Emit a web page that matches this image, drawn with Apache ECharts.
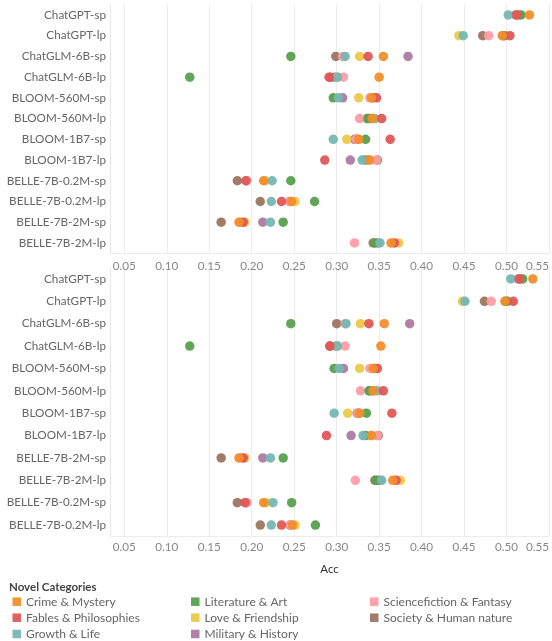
<!DOCTYPE html>
<html><head><meta charset="utf-8">
<script src="https://cdn.jsdelivr.net/npm/echarts@6/dist/echarts.min.js"></script>
<style>html,body{margin:0;padding:0;background:#fff}#c{width:552px;height:641px}</style>
</head><body><div id="c"></div>
<script>
const modelsTop = ['ChatGPT-sp','ChatGPT-lp','ChatGLM-6B-sp','ChatGLM-6B-lp','BLOOM-560M-sp','BLOOM-560M-lp','BLOOM-1B7-sp','BLOOM-1B7-lp','BELLE-7B-0.2M-sp','BELLE-7B-0.2M-lp','BELLE-7B-2M-sp','BELLE-7B-2M-lp'];
const modelsBottom = ['ChatGPT-sp','ChatGPT-lp','ChatGLM-6B-sp','ChatGLM-6B-lp','BLOOM-560M-sp','BLOOM-560M-lp','BLOOM-1B7-sp','BLOOM-1B7-lp','BELLE-7B-2M-sp','BELLE-7B-2M-lp','BELLE-7B-0.2M-sp','BELLE-7B-0.2M-lp'];
const categories = ['Crime & Mystery','Fables & Philosophies','Growth & Life','Literature & Art','Love & Friendship','Military & History','Sciencefiction & Fantasy','Society & Human nature'];
const xTicks = [0.05,0.10,0.15,0.20,0.25,0.30,0.35,0.40,0.45,0.50,0.55];

// top panel values
const topCrime      = [0.527,0.495,0.355,0.350,0.341,0.342,0.326,0.339,0.214,0.247,0.185,0.364];
const topFables     = [0.512,0.504,0.337,0.291,0.347,0.353,0.363,0.286,0.193,0.235,0.190,0.368];
const topGrowth     = [0.502,0.449,0.310,0.301,0.302,0.345,0.296,0.330,0.224,0.223,0.222,0.351];
const topLiterature = [0.517,0.498,0.246,0.127,0.296,0.337,0.334,0.334,0.246,0.274,0.237,0.345];
const topLove       = [0.514,0.444,0.327,0.301,0.326,0.340,0.312,0.338,0.216,0.251,0.192,0.373];
const topMilitary   = [0.515,0.496,0.384,0.298,0.307,0.341,0.321,0.316,0.194,0.245,0.213,0.348];
const topScifi      = [0.513,0.479,0.307,0.308,0.339,0.327,0.323,0.347,0.194,0.244,0.187,0.321];
const topSociety    = [0.511,0.472,0.299,0.293,0.343,0.336,0.324,0.348,0.183,0.210,0.164,0.343];

// bottom panel values
const botCrime      = [0.531,0.498,0.356,0.352,0.343,0.343,0.327,0.341,0.185,0.366,0.214,0.248];
const botFables     = [0.515,0.508,0.338,0.292,0.348,0.355,0.365,0.288,0.190,0.370,0.192,0.235];
const botGrowth     = [0.505,0.451,0.311,0.301,0.303,0.348,0.297,0.331,0.222,0.353,0.225,0.223];
const botLiterature = [0.519,0.501,0.246,0.127,0.297,0.338,0.335,0.334,0.237,0.347,0.247,0.275];
const botLove       = [0.517,0.448,0.328,0.301,0.327,0.342,0.313,0.340,0.192,0.375,0.217,0.251];
const botMilitary   = [0.516,0.499,0.386,0.299,0.308,0.343,0.324,0.317,0.213,0.350,0.194,0.245];
const botScifi      = [0.515,0.482,0.310,0.310,0.339,0.328,0.325,0.348,0.187,0.322,0.194,0.245];
const botSociety    = [0.514,0.474,0.300,0.292,0.345,0.339,0.326,0.349,0.164,0.345,0.183,0.210];

const colors = {
  'Crime & Mystery':'#F28E2B','Fables & Philosophies':'#E15759','Growth & Life':'#76B7B2',
  'Literature & Art':'#59A14F','Love & Friendship':'#EDC948','Military & History':'#B07AA1',
  'Sciencefiction & Fantasy':'#FF9DA7','Society & Human nature':'#9C755F'
};
const topData = {'Crime & Mystery':topCrime,'Fables & Philosophies':topFables,'Growth & Life':topGrowth,'Literature & Art':topLiterature,'Love & Friendship':topLove,'Military & History':topMilitary,'Sciencefiction & Fantasy':topScifi,'Society & Human nature':topSociety};
const botData = {'Crime & Mystery':botCrime,'Fables & Philosophies':botFables,'Growth & Life':botGrowth,'Literature & Art':botLiterature,'Love & Friendship':botLove,'Military & History':botMilitary,'Sciencefiction & Fantasy':botScifi,'Society & Human nature':botSociety};
const drawOrder = ['Military & History','Society & Human nature','Love & Friendship','Sciencefiction & Fantasy','Literature & Art','Growth & Life','Fables & Philosophies','Crime & Mystery'];

const FONT = 'Lato';
const xMin = 0.0331, xMax = 0.55;
function xAxis(gi, showName, margin){
  return {type:'value', gridIndex:gi, min:xMin, max:xMax,
    axisLine:{show:true, lineStyle:{color:'#ececec'}}, axisTick:{show:false, customValues:xTicks},
    splitLine:{show:true, lineStyle:{color:'#ececec', width:1}},
    axisLabel:{customValues:xTicks, formatter:v=>v.toFixed(2), color:'#888', fontSize:11.7, fontFamily:FONT, margin:margin, alignMaxLabel:'right'},
    name: showName ? 'Acc' : '', nameLocation:'middle', nameGap:27,
    nameTextStyle:{color:'#333', fontSize:11.5, fontFamily:FONT}};
}
function yAxis(gi, cats){
  return {type:'category', gridIndex:gi, data:cats, inverse:true,
    axisLine:{show:true, lineStyle:{color:'#e8e8e8'}}, axisTick:{show:false}, splitLine:{show:false},
    axisLabel:{color:'#666', fontSize:11.7, fontFamily:FONT, margin:4}};
}
const series = [];
[[0,topData,modelsTop],[1,botData,modelsBottom]].forEach(([gi,dd,cats])=>{
  drawOrder.forEach(c=>{
    series.push({type:'scatter', name:c, xAxisIndex:gi, yAxisIndex:gi,
      symbolSize:9.5, itemStyle:{color:colors[c], opacity:0.95},
      data: dd[c].map((v,i)=>[v,cats[i]])});
  });
});
const colLeft = [12.5, 191, 370];
const rowTop = [601.7, 617.7, 634];
const legends = categories.map((c,i)=>({
  left: colLeft[Math.floor(i/3)], top: rowTop[i%3]-7, data:[c], icon:'rect',
  itemWidth:8.5, itemHeight:8.5, padding:0, selectedMode:false,
  textStyle:{fontSize:12, color:'#666', fontFamily:FONT, padding:[0,0,0,0], lineHeight:14}
}));
const option = {
  animation:false,
  textStyle:{fontFamily:FONT},
  grid:[
    {left:110, right:-1.8, top:4.6, height:248.7},
    {left:110, right:-1.8, top:267.8, height:268.4}
  ],
  xAxis:[xAxis(0,false,7), xAxis(1,true,5)],
  yAxis:[yAxis(0,modelsTop), yAxis(1,modelsBottom)],
  title:{text:'Novel Categories', left:9, top:580.5, padding:0, textStyle:{fontSize:11.5, fontWeight:'bold', color:'#444', fontFamily:FONT, lineHeight:14}},
  legend: legends,
  series
};
echarts.init(document.getElementById('c')).setOption(option);
</script></body></html>
